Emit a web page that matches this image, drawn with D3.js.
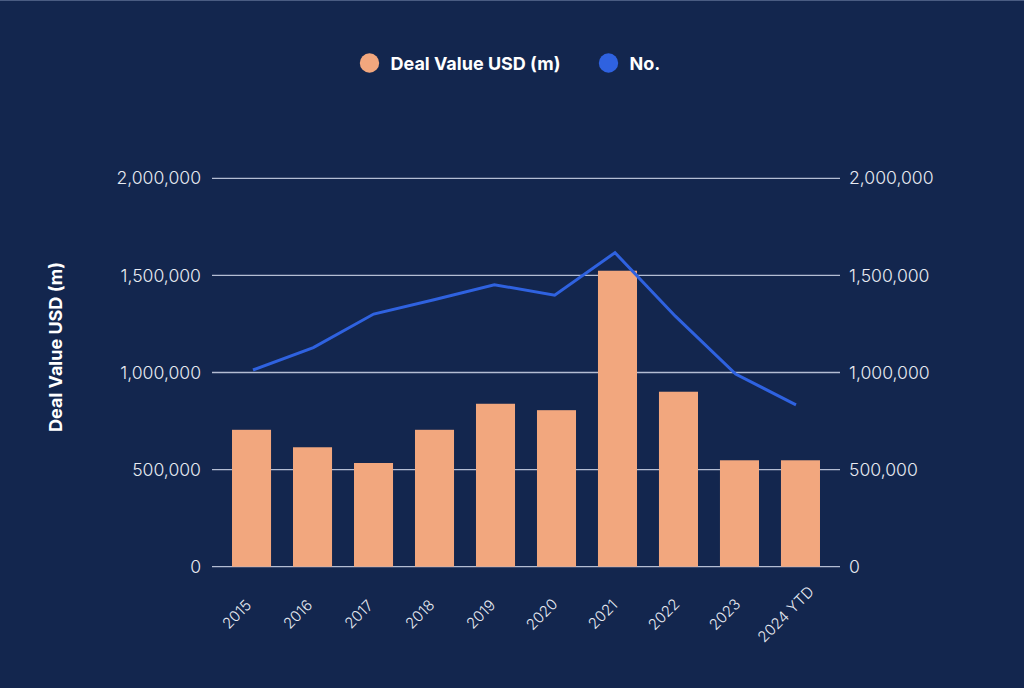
<!DOCTYPE html>
<html>
<head>
<meta charset="utf-8">
<script src="https://cdn.jsdelivr.net/npm/d3@7"></script>
<style>
  html, body { margin: 0; padding: 0; background: #13264e; }
  svg { display: block; }
  text { font-family: Inter, "Open Sans", sans-serif; }
</style>
</head>
<body>
<svg id="chart" width="1024" height="688"></svg>
<script>
const categories = ["2015", "2016", "2017", "2018", "2019", "2020", "2021", "2022", "2023", "2024 YTD"];
const dealValues = [705000, 615000, 534000, 705000, 839000, 806000, 1524000, 901000, 548000, 548000];
const dealCounts = [1013000, 1128000, 1301000, 1375000, 1452000, 1398000, 1617000, 1290000, 992000, 833000];
const yTicks = [0, 500000, 1000000, 1500000, 2000000];
const seriesNames = ["Deal Value USD (m)", "No."];
const colors = { bg: "#13264e", bar: "#f2a77e", line: "#2f62e0", grid: "#b4bdd3", text: "#e8ebf2" };

const svg = d3.select("#chart");
svg.append("rect").attr("width", 1024).attr("height", 688).attr("fill", colors.bg);
svg.append("line").attr("x1", 0).attr("x2", 1024).attr("y1", 0.5).attr("y2", 0.5)
  .attr("stroke", "#4a5c82").attr("stroke-width", 1);

const plotLeft = 212, plotRight = 840, plotTop = 178.3, plotBottom = 566.7;

const x = d3.scaleBand().domain(categories).range([plotLeft, plotRight])
  .paddingInner(0.36).paddingOuter(0.328);
const xLine = d3.scalePoint().domain(categories).range([253, 796]);
const y = d3.scaleLinear().domain([0, 2000000]).range([plotBottom, plotTop]);
const y2 = d3.scaleLinear().domain([0, 2000000]).range([plotBottom, plotTop]);
const fmt = d3.format(",");

// gridlines
svg.append("g").selectAll("line").data(yTicks).join("line")
  .attr("x1", plotLeft).attr("x2", plotRight)
  .attr("y1", d => y(d)).attr("y2", d => y(d))
  .attr("stroke", colors.grid).attr("stroke-width", 1.3);

// left axis labels
const leftAxis = d3.axisLeft(y).tickValues(yTicks).tickFormat(fmt).tickSize(0).tickPadding(11);
const gl = svg.append("g").attr("transform", `translate(${plotLeft},0)`).call(leftAxis);
gl.select(".domain").remove();
gl.selectAll("text").attr("fill", colors.text).attr("font-size", 17.6).attr("font-weight", 300)
  .attr("font-family", "Inter, sans-serif");

// right axis labels
const rightAxis = d3.axisRight(y2).tickValues(yTicks).tickFormat(fmt).tickSize(0).tickPadding(9);
const gr = svg.append("g").attr("transform", `translate(${plotRight},0)`).call(rightAxis);
gr.select(".domain").remove();
gr.selectAll("text").attr("fill", colors.text).attr("font-size", 17.6).attr("font-weight", 300)
  .attr("font-family", "Inter, sans-serif");

// bars
svg.append("g").selectAll("rect").data(categories).join("rect")
  .attr("x", d => x(d)).attr("width", x.bandwidth())
  .attr("y", (d, i) => y(dealValues[i]))
  .attr("height", (d, i) => y(0) - y(dealValues[i]))
  .attr("fill", colors.bar);

// line
const lineGen = d3.line().x((d, i) => xLine(categories[i])).y(d => y2(d));
svg.append("path").datum(dealCounts).attr("d", lineGen)
  .attr("fill", "none").attr("stroke", colors.line).attr("stroke-width", 3)
  .attr("stroke-linejoin", "miter");

// x labels
svg.append("g").selectAll("text").data(categories).join("text")
  .attr("transform", d => `translate(${x(d) + x.bandwidth() / 2 - 11},${618}) rotate(-45)`)
  .attr("text-anchor", "middle")
  .attr("fill", colors.text).attr("font-size", 15).attr("font-weight", 300)
  .text(d => d);

// y title
svg.append("text")
  .attr("transform", "translate(62,347) rotate(-90)")
  .attr("text-anchor", "middle")
  .attr("fill", "#ffffff").attr("font-size", 18).attr("font-weight", 700)
  .text(seriesNames[0]);

// legend
const legend = [
  { name: seriesNames[0], color: colors.bar, cx: 369.5 },
  { name: seriesNames[1], color: colors.line, cx: 608.5 }
];
const lg = svg.append("g").selectAll("g").data(legend).join("g")
  .attr("transform", d => `translate(${d.cx},63)`);
lg.append("circle").attr("r", 9.7).attr("fill", d => d.color);
lg.append("text").attr("x", 21).attr("y", 6.5)
  .attr("fill", "#ffffff").attr("font-size", 18).attr("font-weight", 700)
  .text(d => d.name);
</script>
</body>
</html>
